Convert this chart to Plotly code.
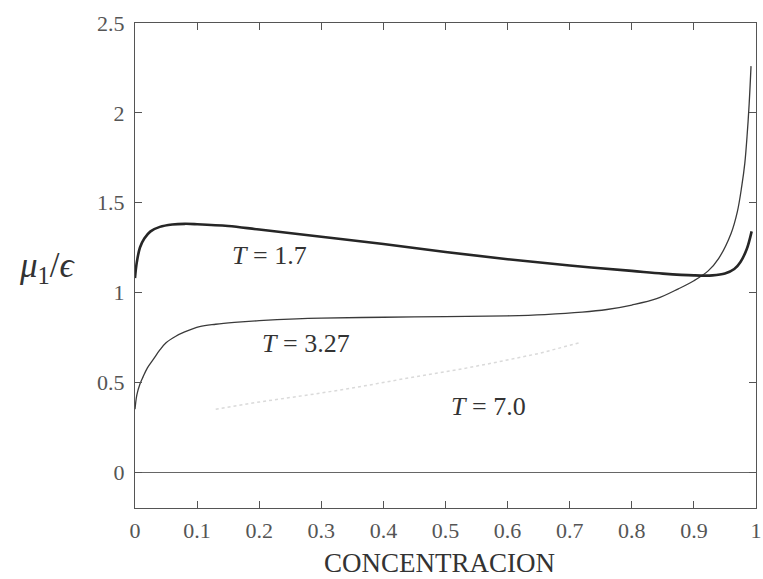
import plotly.graph_objects as go

# T = 1.7 curve
t17_x = [0, 0.003, 0.008, 0.015, 0.025, 0.04, 0.06, 0.08, 0.1, 0.15, 0.2, 0.3, 0.4, 0.5,
         0.6, 0.7, 0.8, 0.85, 0.9, 0.93, 0.95, 0.965, 0.975, 0.985, 0.993]
t17_y = [1.08, 1.17, 1.25, 1.30, 1.34, 1.365, 1.378, 1.382, 1.38, 1.37, 1.35, 1.31, 1.27, 1.225,
         1.185, 1.15, 1.12, 1.105, 1.095, 1.095, 1.105, 1.13, 1.17, 1.24, 1.34]

# T = 3.27 curve
t327_x = [0, 0.003, 0.008, 0.013, 0.02, 0.03, 0.04, 0.05, 0.065, 0.08, 0.104, 0.13, 0.16, 0.2, 0.26,
          0.3, 0.4, 0.5, 0.6, 0.66, 0.72, 0.76, 0.8, 0.84, 0.875, 0.9, 0.923, 0.94, 0.96, 0.97,
          0.977, 0.982, 0.986, 0.989, 0.992]
t327_y = [0.35, 0.43, 0.49, 0.53, 0.58, 0.63, 0.68, 0.72, 0.755, 0.78, 0.81, 0.823, 0.833, 0.843, 0.853,
          0.857, 0.862, 0.865, 0.87, 0.877, 0.89, 0.905, 0.93, 0.965, 1.02, 1.065, 1.12, 1.19, 1.33, 1.45,
          1.59, 1.72, 1.89, 2.05, 2.26]

# T = 7.0 curve (faint in the original)
t7_x = [0.13, 0.2, 0.3, 0.37, 0.45, 0.52, 0.58, 0.65, 0.716]
t7_y = [0.35, 0.39, 0.44, 0.48, 0.53, 0.57, 0.61, 0.66, 0.72]

x_ticks = [0, 0.1, 0.2, 0.3, 0.4, 0.5, 0.6, 0.7, 0.8, 0.9, 1]
x_tick_labels = ["0", "0.1", "0.2", "0.3", "0.4", "0.5", "0.6", "0.7", "0.8", "0.9", "1"]
y_ticks = [0, 0.5, 1, 1.5, 2, 2.5]
y_tick_labels = ["0", "0.5", "1", "1.5", "2", "2.5"]

labels = [("<i>T</i> = 1.7", 0.216, 1.206), ("<i>T</i> = 3.27", 0.276, 0.717), ("<i>T</i> = 7.0", 0.57, 0.367)]

serif = "Liberation Serif, DejaVu Serif, serif"

fig = go.Figure()
fig.add_trace(go.Scatter(x=t7_x, y=t7_y, mode="lines",
                         line=dict(color="#dadada", width=1.5, dash="dot"), showlegend=False))
fig.add_trace(go.Scatter(x=t327_x, y=t327_y, mode="lines", line_shape="spline",
                         line=dict(color="#3a3a3a", width=1.3), showlegend=False))
fig.add_trace(go.Scatter(x=t17_x, y=t17_y, mode="lines", line_shape="spline",
                         line=dict(color="#262626", width=2.6), showlegend=False))

for txt, lx, ly in labels:
    fig.add_annotation(x=lx, y=ly, text=txt, showarrow=False, xanchor="center", yanchor="middle",
                       font=dict(family=serif, size=26, color="#333333"))

fig.add_annotation(xref="paper", yref="y", x=-0.092, y=1.14, text="<i>μ</i><sub>1</sub>/<i>ϵ</i>",
                   showarrow=False, xanchor="right", yanchor="middle",
                   font=dict(family=serif, size=35, color="#333333"))

fig.add_annotation(xref="paper", yref="paper", x=0.49, y=-0.113, text="CONCENTRACION",
                   showarrow=False, xanchor="center", yanchor="middle",
                   font=dict(family=serif, size=27, color="#333333"))

fig.update_layout(
    width=763, height=579,
    margin=dict(l=135, r=7, t=23, b=71),
    paper_bgcolor="white", plot_bgcolor="white",
    font=dict(family=serif, color="#555555"),
    xaxis=dict(range=[0, 1], tickvals=x_ticks, ticktext=x_tick_labels, ticks="inside", ticklen=7,
               tickcolor="#555555", showline=True, linecolor="#555555", linewidth=1, mirror="allticks",
               showgrid=False, zeroline=False, tickfont=dict(size=22, color="#555555"),
               ticklabelstandoff=3, ticklabeloverflow="allow", automargin=False),
    yaxis=dict(range=[-0.2, 2.5], tickvals=y_ticks, ticktext=y_tick_labels, ticks="inside", ticklen=7,
               tickcolor="#555555", showline=True, linecolor="#555555", linewidth=1, mirror="allticks",
               showgrid=False, zeroline=True, zerolinecolor="#666666", zerolinewidth=1,
               tickfont=dict(size=22, color="#555555"), ticklabelstandoff=5, automargin=False),
)

# remove the page's default body margin so the 763x579 figure fills the window exactly
fig.write_html("out.html", config={"displayModeBar": False},
               post_script="document.body.style.margin='0';document.body.style.overflow='hidden';")
